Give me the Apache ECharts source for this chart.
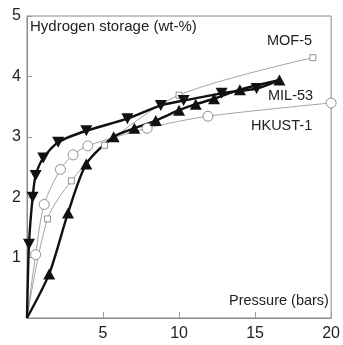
<!DOCTYPE html>
<html>
<head>
<meta charset="utf-8">
<script src="https://cdn.jsdelivr.net/npm/echarts@6/dist/echarts.min.js"></script>
<style>
  html, body { margin: 0; padding: 0; background: #fff; }
  #chart { width: 343px; height: 345px; }
</style>
</head>
<body>
<div id="chart"></div>
<script>
// pressure (bars), hydrogen uptake (wt-%)
var mil53AdsX = [0, 1.46, 2.7, 3.9, 5.7, 7.06, 8.47, 10.0, 11.1, 12.3, 14.0, 16.6];
var mil53AdsY = [0, 0.73, 1.74, 2.55, 3.0, 3.14, 3.27, 3.44, 3.54, 3.63, 3.78, 3.94];
var mil53DesX = [16.6, 15.1, 12.8, 10.3, 8.8, 6.6, 3.9, 2.05, 1.07, 0.57, 0.37, 0.13, 0];
var mil53DesY = [3.94, 3.8, 3.72, 3.6, 3.52, 3.3, 3.1, 2.91, 2.65, 2.36, 2.0, 1.22, 0];
var hkustX = [0, 0.57, 1.13, 2.2, 3.03, 4.0, 7.9, 11.9, 20];
var hkustY = [0, 1.05, 1.88, 2.46, 2.7, 2.85, 3.14, 3.34, 3.56];
var mof5X = [0, 1.35, 2.92, 5.1, 10, 18.8];
var mof5Y = [0, 1.64, 2.27, 2.86, 3.69, 4.31];

var xTicks = [5, 10, 15, 20];
var yTicks = [1, 2, 3, 4, 5];

var font = "'Liberation Sans', Arial, sans-serif";

// build points, hide marker on first/last as needed
function pts(xs, ys, noMark) {
  return xs.map(function (x, i) {
    var p = { value: [x, ys[i]] };
    if (noMark.indexOf(i) >= 0) p.symbol = 'none';
    return p;
  });
}

var chart = echarts.init(document.getElementById('chart'));

var option = {
  animation: false,
  grid: {
    left: 27, right: 9, top: 16, bottom: 27,
    show: true, borderColor: '#8a8a8a', borderWidth: 1
  },
  xAxis: {
    type: 'value', min: 0, max: 20, interval: 5,
    axisLine: { lineStyle: { color: '#8a8a8a' } },
    axisTick: { inside: true, length: 6, lineStyle: { color: '#999' } },
    splitLine: { show: false },
    axisLabel: {
      margin: 8, fontSize: 16, color: '#222', fontFamily: font,
      formatter: function (v) { return xTicks.indexOf(v) >= 0 ? String(v) : ''; }
    }
  },
  yAxis: {
    type: 'value', min: 0, max: 5, interval: 1,
    axisLine: { show: true, lineStyle: { color: '#8a8a8a' } },
    axisTick: { show: true, inside: true, length: 5, lineStyle: { color: '#999' } },
    splitLine: { show: false },
    axisLabel: {
      margin: 6, fontSize: 16, color: '#222', fontFamily: font,
      formatter: function (v) { return yTicks.indexOf(v) >= 0 ? String(v) : ''; }
    }
  },
  series: [
    {
      name: 'MOF-5', type: 'line', smooth: 0.3,
      data: pts(mof5X, mof5Y, [0]),
      symbol: 'rect', symbolSize: 6,
      itemStyle: { color: '#fff', borderColor: '#777', borderWidth: 0.8 },
      lineStyle: { color: '#8c8c8c', width: 0.8 }
    },
    {
      name: 'HKUST-1', type: 'line', smooth: 0.3,
      data: pts(hkustX, hkustY, [0]),
      symbol: 'circle', symbolSize: 10,
      itemStyle: { color: '#fff', borderColor: '#777', borderWidth: 0.8 },
      lineStyle: { color: '#8c8c8c', width: 0.8 }
    },
    {
      name: 'MIL-53 des', type: 'line', smooth: 0.25,
      data: pts(mil53DesX, mil53DesY, [0, mil53DesX.length - 1]),
      symbol: 'triangle', symbolSize: [12, 11], symbolRotate: 180,
      itemStyle: { color: '#111' },
      lineStyle: { color: '#111', width: 2.4 }
    },
    {
      name: 'MIL-53 ads', type: 'line', smooth: 0.25,
      data: pts(mil53AdsX, mil53AdsY, [0]),
      symbol: 'triangle', symbolSize: [12, 11],
      itemStyle: { color: '#111' },
      lineStyle: { color: '#111', width: 2.4 }
    }
  ],
  graphic: [
    { type: 'text', left: 30, top: 19, style: { text: 'Hydrogen storage (wt-%)', fontSize: 15, fontFamily: font, fill: '#222' } },
    { type: 'text', left: 267, top: 33, style: { text: 'MOF-5', fontSize: 14.5, fontFamily: font, fill: '#222' } },
    { type: 'text', left: 268, top: 88, style: { text: 'MIL-53', fontSize: 14.5, fontFamily: font, fill: '#222' } },
    { type: 'text', left: 251, top: 118, style: { text: 'HKUST-1', fontSize: 14.5, fontFamily: font, fill: '#222' } },
    { type: 'text', left: 229, top: 293, style: { text: 'Pressure (bars)', fontSize: 14.5, fontFamily: font, fill: '#222' } }
  ]
};

chart.setOption(option);
</script>
</body>
</html>
